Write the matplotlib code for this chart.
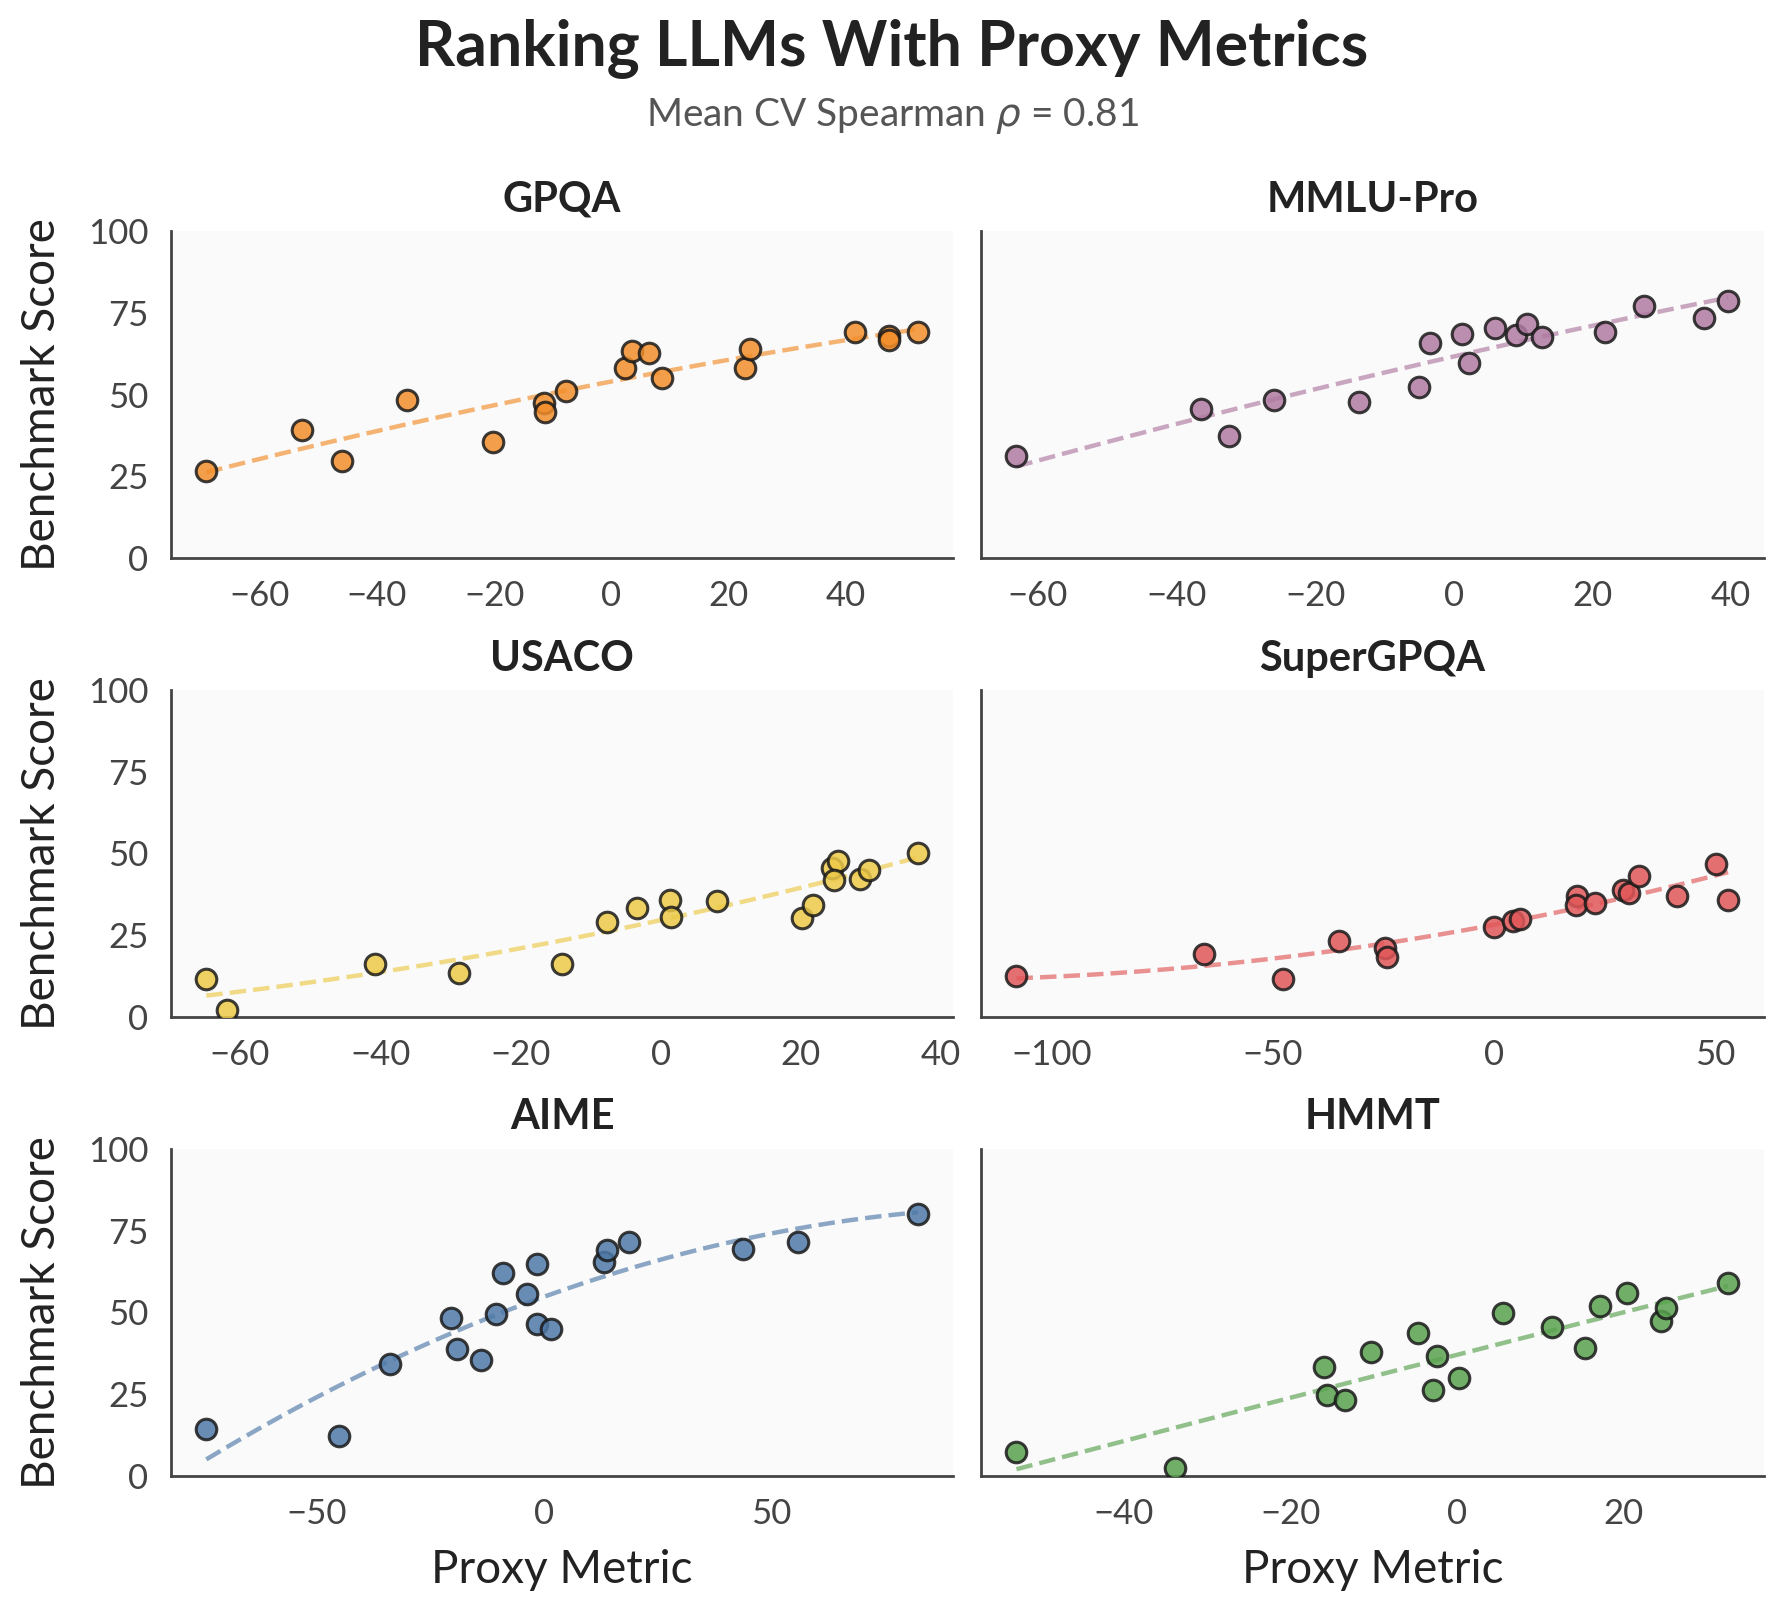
import numpy as np
import matplotlib
matplotlib.use("Agg")
import matplotlib.pyplot as plt
from matplotlib.ticker import MaxNLocator

plt.rcParams['font.family'] = ['Lato', 'DejaVu Sans']

# Данные: метрика-прокси (x) и балл бенчмарка (y)
gpqa_x = [-69.1, -52.7, -46.0, -34.8, -20.2, -11.5, -11.3, -7.7, 2.4, 3.5, 6.5, 8.6,
          22.8, 23.7, 41.5, 47.4, 47.4, 52.3]
gpqa_y = [26.5, 39.1, 29.6, 48.3, 35.4, 47.3, 44.8, 51.1, 58.0, 63.4, 62.6, 55.0,
          58.2, 64.1, 69.2, 67.9, 66.6, 69.1]

mmlu_x = [-63.1, -36.5, -32.5, -26.0, -13.7, -5.0, -3.4, 1.2, 2.2, 6.0, 9.0, 10.6,
          12.7, 21.9, 27.5, 36.1, 39.6]
mmlu_y = [31.1, 45.5, 37.2, 48.5, 47.7, 52.4, 65.9, 68.7, 59.7, 70.3, 68.2, 71.5,
          67.6, 69.2, 77.1, 73.6, 78.8]

usaco_x = [-64.8, -61.8, -40.8, -28.7, -14.1, -7.6, -3.4, 1.4, 1.5, 8.0, 20.2, 21.8,
           24.4, 25.3, 24.8, 28.4, 29.7, 36.7]
usaco_y = [11.5, 2.0, 16.1, 13.4, 16.1, 29.0, 33.4, 35.8, 30.6, 35.4, 30.3, 34.2,
           45.6, 47.7, 41.9, 42.2, 44.9, 50.2]

super_x = [-108.0, -65.7, -47.7, -35.1, -24.6, -24.3, 0.0, 4.2, 5.8, 18.8, 18.5, 22.8,
           29.2, 30.6, 32.7, 41.3, 50.1, 52.9]
super_y = [12.6, 19.3, 11.6, 23.1, 21.0, 18.2, 27.6, 29.3, 29.9, 37.0, 34.2, 34.7,
           38.8, 37.9, 43.1, 36.9, 46.8, 35.7]

aime_x = [-74.3, -45.0, -33.8, -20.5, -19.0, -13.8, -10.4, -9.0, -3.6, -1.5, -1.5, 1.5,
          13.3, 14.0, 18.8, 43.9, 56.0, 82.4]
aime_y = [14.2, 12.1, 34.1, 48.1, 38.8, 35.5, 49.6, 62.0, 55.5, 64.8, 46.3, 44.8,
          65.5, 69.0, 71.4, 69.5, 71.4, 80.1]

hmmt_x = [-52.9, -33.8, -16.0, -15.6, -13.4, -10.3, -4.7, -2.4, -2.8, 0.3, 5.5, 11.4,
          15.4, 17.2, 20.4, 24.5, 25.2, 32.6]
hmmt_y = [7.2, 2.2, 33.3, 24.6, 23.2, 37.8, 43.6, 36.7, 26.2, 29.8, 49.9, 45.5,
          39.0, 51.9, 55.9, 47.3, 51.4, 59.0]

names = ['GPQA', 'MMLU-Pro', 'USACO', 'SuperGPQA', 'AIME', 'HMMT']
xs = [gpqa_x, mmlu_x, usaco_x, super_x, aime_x, hmmt_x]
ys = [gpqa_y, mmlu_y, usaco_y, super_y, aime_y, hmmt_y]
colors = ['#F28E2B', '#B07AA1', '#EDC948', '#E15759', '#4E79A7', '#59A14F']

fig, axes = plt.subplots(3, 2, figsize=(8.92, 8.085), dpi=200, sharey=True)
fig.subplots_adjust(left=0.0957, right=0.9886, top=0.857, bottom=0.0874,
                    wspace=0.035, hspace=0.404)

for ax, name, x, y, c in zip(axes.flat, names, xs, ys, colors):
    x = np.array(x)
    y = np.array(y)
    ax.set_facecolor('#FAFAFA')
    # квадратичная аппроксимация
    coef = np.polyfit(x, y, 2)
    xx = np.linspace(x.min(), x.max(), 200)
    ax.plot(xx, np.polyval(coef, xx), '--', color=c, alpha=0.65, lw=1.6, zorder=2)
    ax.scatter(x, y, s=55, color=c, alpha=0.85, edgecolor='#1a1a1a', linewidth=1.1, zorder=3)
    ax.set_title(name, fontsize=15, fontweight='bold', color='#222222', pad=7)
    ax.set_ylim(0, 100)
    ax.set_yticks([0, 25, 50, 75, 100])
    ax.xaxis.set_major_locator(MaxNLocator(nbins=7, steps=[1, 2, 5, 10]))
    for s in ['top', 'right']:
        ax.spines[s].set_visible(False)
    for s in ['left', 'bottom']:
        ax.spines[s].set_color('#444444')
        ax.spines[s].set_linewidth(1.0)
    ax.tick_params(length=0, labelsize=12.5, colors='#444444', pad=8)

for ax in axes[:, 0]:
    ax.set_ylabel('Benchmark Score', fontsize=16.5, color='#222222', labelpad=9)
for ax in axes[-1, :]:
    ax.set_xlabel('Proxy Metric', fontsize=16.5, color='#222222', labelpad=7)

fig.suptitle('Ranking LLMs With Proxy Metrics', fontsize=22.5, fontweight='bold',
             color='#222222', y=0.989)
fig.text(0.5, 0.928, r'Mean CV Spearman $\rho$ = 0.81', ha='center', va='center',
         fontsize=14, color='#555555')

plt.savefig('out.png', dpi=200)
